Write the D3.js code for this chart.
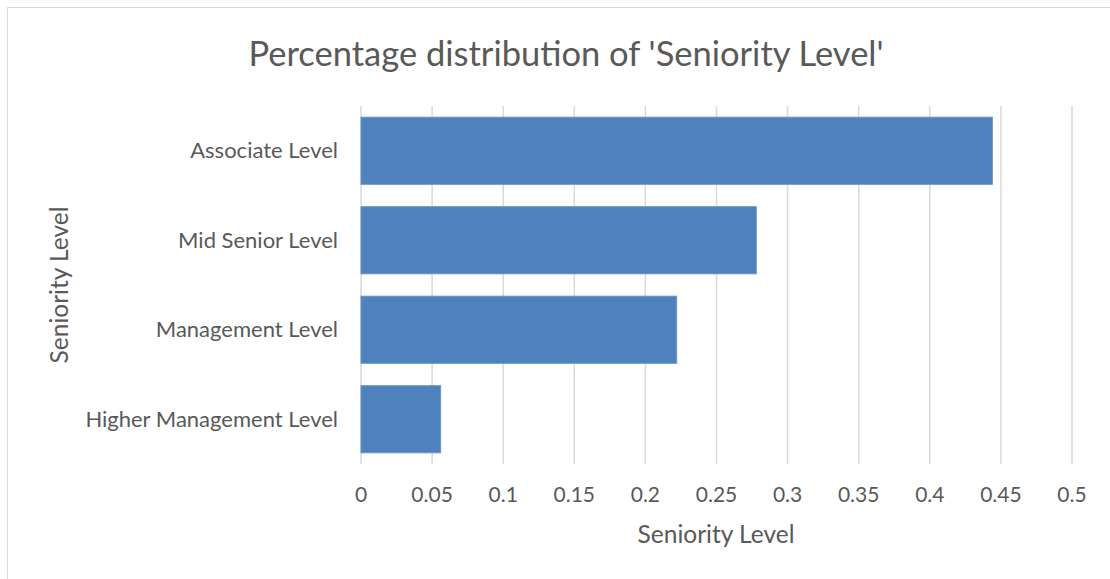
<!DOCTYPE html>
<html>
<head>
<meta charset="utf-8">
<script src="https://cdn.jsdelivr.net/npm/d3@7"></script>
<style>
html,body{margin:0;padding:0;background:#fff;}
svg{display:block;}
text{font-family:Lato,"Open Sans",sans-serif;fill:#595959;}
</style>
</head>
<body>
<svg id="chart" width="1110" height="579"></svg>
<script>
const categories = ["Associate Level","Mid Senior Level","Management Level","Higher Management Level"];
const values = [0.444, 0.278, 0.222, 0.056];
const xTicks = [0,0.05,0.1,0.15,0.2,0.25,0.3,0.35,0.4,0.45,0.5];
const tickLabels = ["0","0.05","0.1","0.15","0.2","0.25","0.3","0.35","0.4","0.45","0.5"];
const title = "Percentage distribution of 'Seniority Level'";
const xTitle = "Seniority Level";
const yTitle = "Seniority Level";

const svg = d3.select("#chart");
const W = 1110, H = 579;
const m = {left:361, right:1072, top:106, bottom:464};

svg.append("rect").attr("x",7.5).attr("y",7.5).attr("width",W).attr("height",H)
  .attr("fill","#fff").attr("stroke","#d9d9d9").attr("stroke-width",1);

const x = d3.scaleLinear().domain([0,0.5]).range([m.left,m.right]);
const y = d3.scaleBand().domain(categories).range([m.top,m.bottom]).paddingInner(0.25).paddingOuter(0.125);

// gridlines
svg.append("g").selectAll("line").data(xTicks).join("line")
  .attr("x1",d=>x(d)).attr("x2",d=>x(d)).attr("y1",m.top).attr("y2",m.bottom)
  .attr("stroke","#d9d9d9").attr("stroke-width",1.5);

// bars
svg.append("g").selectAll("rect").data(categories).join("rect")
  .attr("x",x(0)).attr("y",d=>y(d))
  .attr("width",(d,i)=>x(values[i])-x(0)).attr("height",y.bandwidth())
  .attr("fill","#4f81bd").attr("stroke","#6b95c8").attr("stroke-width",1);

// x tick labels
svg.append("g").selectAll("text").data(xTicks).join("text")
  .attr("x",d=>x(d)).attr("y",502).attr("text-anchor","middle")
  .style("font-size","21px").text((d,i)=>tickLabels[i]);

// category labels
svg.append("g").selectAll("text").data(categories).join("text")
  .attr("x",338).attr("y",d=>y(d)+y.bandwidth()/2).attr("dy","0.35em")
  .attr("text-anchor","end").style("font-size","22px").text(d=>d);

// axis titles
svg.append("text").attr("x",716).attr("y",543).attr("text-anchor","middle")
  .style("font-size","24.5px").text(xTitle);
svg.append("text").attr("transform","translate(68,285) rotate(-90)").attr("text-anchor","middle")
  .style("font-size","24.5px").text(yTitle);

// title
svg.append("text").attr("x",566).attr("y",66).attr("text-anchor","middle")
  .style("font-size","34.5px").style("font-weight",400).text(title);
</script>
</body>
</html>
